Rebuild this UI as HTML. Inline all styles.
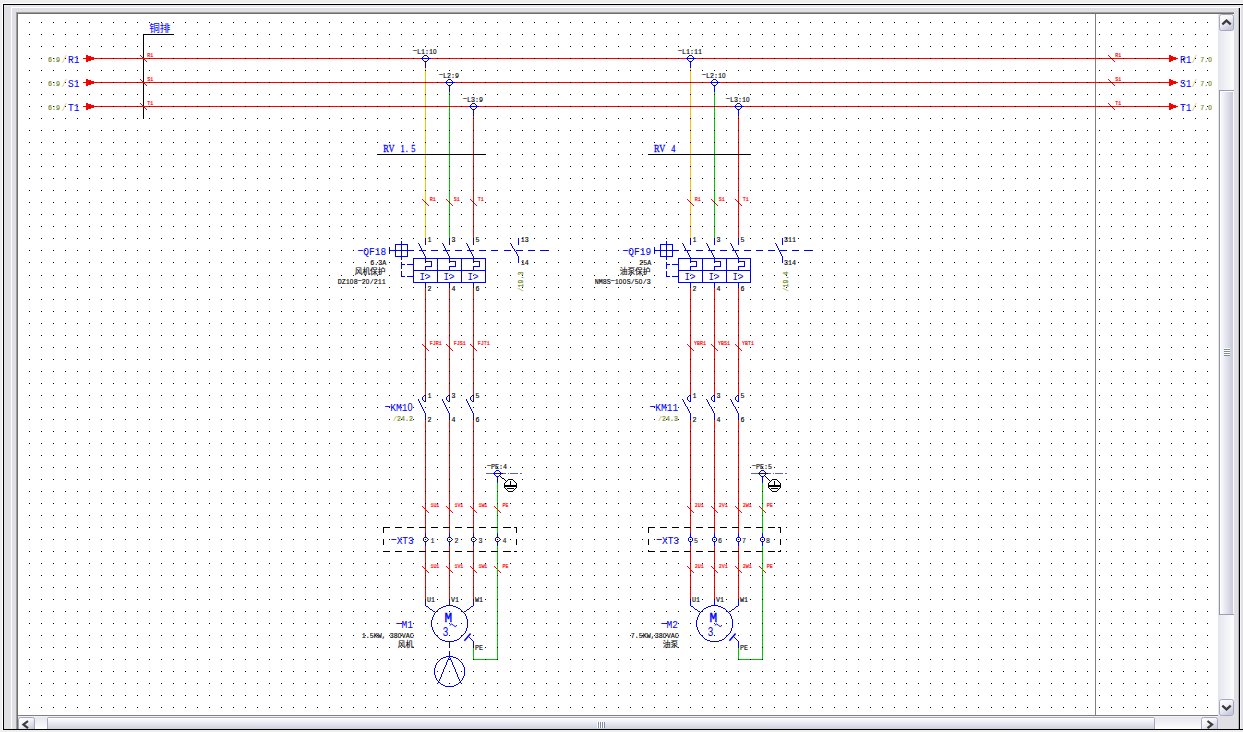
<!DOCTYPE html>
<html lang="zh">
<head>
<meta charset="utf-8">
<title>EPLAN schematic</title>
<style>
html,body{margin:0;padding:0;background:#eeeeee;}
body{width:1243px;height:732px;overflow:hidden;}
svg{display:block;}
text{white-space:pre;}
.m{font-family:"Liberation Mono","Noto Sans CJK SC",monospace;}
.z{font-family:"Liberation Sans","Noto Sans CJK SC",sans-serif;}
.s{font-family:"Liberation Serif","Noto Serif CJK SC",serif;}
.c{font-family:"Liberation Sans","Noto Sans CJK SC",sans-serif;}
</style>
</head>
<body>
<svg width="1243" height="732" viewBox="0 0 1243 732">
<rect x="0" y="0" width="1243" height="732" fill="#eeeeee" />
<rect x="2" y="3" width="1241" height="1" fill="#ffffff" />
<rect x="2" y="3" width="1" height="727" fill="#ffffff" />
<rect x="4" y="5" width="1235" height="724" fill="#e0dfe3" />
<rect x="4" y="5" width="1239" height="2" fill="#e6e5ea" />
<rect x="1240" y="5" width="1" height="724" fill="#f6f6fa" />
<rect x="1241" y="5" width="2" height="724" fill="#e0dfe3" />
<rect x="1238" y="8" width="1" height="721" fill="#b4b3b8" />
<rect x="3" y="4" width="1240" height="1" fill="#000" />
<rect x="3" y="729" width="1240" height="1" fill="#000" />
<rect x="3" y="4" width="1" height="726" fill="#000" />
<rect x="1239" y="8" width="1" height="722" fill="#000" />
<rect x="11" y="7" width="1228" height="1" fill="#ffffff" />
<rect x="11" y="7" width="1" height="722" fill="#ffffff" />
<rect x="16" y="12" width="1218" height="1" fill="#9d9da1" />
<rect x="16" y="12" width="1" height="717" fill="#9d9da1" />
<rect x="17" y="13" width="1217" height="1" fill="#716f64" />
<rect x="17" y="13" width="1" height="716" fill="#716f64" />
<rect x="18" y="14" width="1200" height="701" fill="#ffffff" />
<defs>
<linearGradient id="trv" x1="0" y1="0" x2="1" y2="0"><stop offset="0" stop-color="#e4e4ee"/><stop offset="1" stop-color="#fefefe"/></linearGradient>
<linearGradient id="trh" x1="0" y1="0" x2="0" y2="1"><stop offset="0" stop-color="#e4e4ee"/><stop offset="1" stop-color="#fefefe"/></linearGradient>
<linearGradient id="thv" x1="0" y1="0" x2="1" y2="0"><stop offset="0" stop-color="#ffffff"/><stop offset="0.25" stop-color="#f2f2f8"/><stop offset="1" stop-color="#c4c5d6"/></linearGradient>
<linearGradient id="thh" x1="0" y1="0" x2="0" y2="1"><stop offset="0" stop-color="#ffffff"/><stop offset="0.25" stop-color="#f2f2f8"/><stop offset="1" stop-color="#c4c5d6"/></linearGradient>
<linearGradient id="btn" x1="0" y1="0" x2="0.6" y2="1"><stop offset="0" stop-color="#ffffff"/><stop offset="0.45" stop-color="#f4f4fa"/><stop offset="1" stop-color="#c8c9da"/></linearGradient>
</defs>
<rect x="1218" y="14" width="16" height="702" fill="url(#trv)" />
<rect x="18" y="715" width="1200" height="1" fill="#7f7f7c" />
<rect x="18" y="716" width="1200" height="13" fill="url(#trh)" />
<rect x="18" y="716" width="1200" height="1" fill="#f3f3ef" />
<rect x="1218" y="716" width="16" height="13" fill="#e0dfe3" />
<rect x="1219.5" y="14.5" width="14" height="16" rx="2" fill="url(#btn)" stroke="#a3a7bf" stroke-width="1"/>
<rect x="1219.5" y="699.5" width="14" height="16" rx="2" fill="url(#btn)" stroke="#a3a7bf" stroke-width="1"/>
<rect x="1219" y="90" width="15" height="525" fill="url(#thv)" />
<rect x="1219" y="90" width="1" height="525" fill="#8f93a8" />
<rect x="1220" y="91" width="1" height="523" fill="#ffffff" />
<rect x="1233" y="91" width="1" height="523" fill="#fbfbfd" />
<rect x="1220" y="90" width="14" height="1" fill="#9a9eb4" />
<rect x="1220" y="614" width="14" height="1" fill="#9a9eb4" />
<rect x="1221" y="91" width="12" height="1" fill="#ffffff" />
<rect x="1224" y="349" width="6" height="1" fill="#7f8aa2" />
<rect x="1224" y="348" width="6" height="1" fill="#ffffff" />
<rect x="1224" y="351" width="6" height="1" fill="#7f8aa2" />
<rect x="1224" y="350" width="6" height="1" fill="#ffffff" />
<rect x="1224" y="353" width="6" height="1" fill="#7f8aa2" />
<rect x="1224" y="352" width="6" height="1" fill="#ffffff" />
<rect x="1224" y="355" width="6" height="1" fill="#7f8aa2" />
<rect x="1224" y="354" width="6" height="1" fill="#ffffff" />
<clipPath id="hc"><rect x="18" y="716" width="1200" height="13"/></clipPath>
<g clip-path="url(#hc)">
<rect x="18.5" y="717.5" width="16" height="14" rx="2" fill="url(#btn)" stroke="#a3a7bf" stroke-width="1"/>
<rect x="1201.5" y="717.5" width="16" height="14" rx="2" fill="url(#btn)" stroke="#a3a7bf" stroke-width="1"/>
<rect x="47.5" y="717.5" width="1107" height="14" rx="1.5" fill="url(#thh)" stroke="#a3a7bf" stroke-width="1"/>
<rect x="48" y="718" width="1106" height="1" fill="#ffffff" />
<rect x="598" y="722" width="1" height="6" fill="#7f8aa2" />
<rect x="597" y="722" width="1" height="6" fill="#ffffff" />
<rect x="600" y="722" width="1" height="6" fill="#7f8aa2" />
<rect x="599" y="722" width="1" height="6" fill="#ffffff" />
<rect x="602" y="722" width="1" height="6" fill="#7f8aa2" />
<rect x="601" y="722" width="1" height="6" fill="#ffffff" />
<rect x="604" y="722" width="1" height="6" fill="#7f8aa2" />
<rect x="603" y="722" width="1" height="6" fill="#ffffff" />
</g>
<path d="M1222.3 24.4 L1226.5 20.6 L1230.7 24.4" fill="none" stroke="#3c3c3c" stroke-width="2.2" stroke-linejoin="miter"/>
<path d="M1222.3 705.6 L1226.5 709.4 L1230.7 705.6" fill="none" stroke="#3c3c3c" stroke-width="2.2" stroke-linejoin="miter"/>
<path d="M28 721 L23.4 724.6 L28 728.2" fill="none" stroke="#3c3c3c" stroke-width="2.2" stroke-linejoin="miter"/>
<path d="M1207.5 721 L1212.1 724.6 L1207.5 728.2" fill="none" stroke="#3c3c3c" stroke-width="2.2" stroke-linejoin="miter"/>
<g shape-rendering="crispEdges">
<rect x="1095" y="14" width="1" height="701" fill="#808080"/>
<rect x="143" y="34" width="1" height="85" fill="#000000"/>
<rect x="143" y="34" width="31" height="1" fill="#000000"/>
<text class="c" x="149.2" y="32.2" font-size="10.6" fill="#0000ff" textLength="21.2" lengthAdjust="spacingAndGlyphs" font-weight="400">铜排</text>
<rect x="83" y="58" width="1095" height="1" fill="#ff0000"/>
<rect x="86" y="55" width="2" height="7" fill="#ff0000" />
<rect x="88" y="56" width="3" height="5" fill="#ff0000" />
<rect x="91" y="57" width="3" height="3" fill="#ff0000" />
<rect x="1169" y="55" width="2" height="7" fill="#ff0000" />
<rect x="1171" y="56" width="2" height="5" fill="#ff0000" />
<rect x="1173" y="57" width="3" height="3" fill="#ff0000" />
<path d="M140 55.5h1M141 56.5h1M142 57.5h1M143 58.5h1M144 59.5h1M145 60.5h1M146 61.5h1" stroke="#ff0000" fill="none"/>
<g transform="translate(147.2 57)" fill="#ff0000" font-size="6.22" stroke="#ff0000" stroke-width="0.2">
<text class="m" transform="scale(0.8 1)" x="0 3.73">R1</text>
</g>
<path d="M1108 55.5h1M1109 56.5h1M1110 57.5h1M1111 58.5h1M1112 59.5h1M1113 60.5h1M1114 61.5h1" stroke="#ff0000" fill="none"/>
<g transform="translate(1115.2 57)" fill="#ff0000" font-size="6.22" stroke="#ff0000" stroke-width="0.2">
<text class="m" transform="scale(0.8 1)" x="0 3.73">R1</text>
</g>
<g transform="translate(48 62.1)" fill="#6f8a26" font-size="7.74" stroke="#6f8a26" stroke-width="0.2">
<text class="m" transform="scale(0.86 1)" x="0 4.65 9.29">6:9</text>
</g>
<g transform="translate(61.6 63)" fill="#e6cc78" font-size="10.78" stroke="#e6cc78" stroke-width="0.05">
<text class="m" transform="scale(0.88 1)" x="0">/</text>
</g>
<g transform="translate(68 63)" fill="#0000ff" font-size="10.78" stroke="#0000ff" stroke-width="0.05">
<text class="m" transform="scale(0.88 1)" x="0 6.47">R1</text>
</g>
<g transform="translate(1180 63)" fill="#0000ff" font-size="10.78" stroke="#0000ff" stroke-width="0.05">
<text class="m" transform="scale(0.88 1)" x="0 6.47">R1</text>
</g>
<g transform="translate(1191.6 63)" fill="#e6cc78" font-size="10.78" stroke="#e6cc78" stroke-width="0.05">
<text class="m" transform="scale(0.88 1)" x="0">/</text>
</g>
<g transform="translate(1200.2 62.1)" fill="#6f8a26" font-size="7.74" stroke="#6f8a26" stroke-width="0.2">
<text class="m" transform="scale(0.86 1)" x="0 4.65 9.29">7.<tspan class="z" font-size="7.42">0</tspan></text>
</g>
<rect x="83" y="82" width="1095" height="1" fill="#ff0000"/>
<rect x="86" y="79" width="2" height="7" fill="#ff0000" />
<rect x="88" y="80" width="3" height="5" fill="#ff0000" />
<rect x="91" y="81" width="3" height="3" fill="#ff0000" />
<rect x="1169" y="79" width="2" height="7" fill="#ff0000" />
<rect x="1171" y="80" width="2" height="5" fill="#ff0000" />
<rect x="1173" y="81" width="3" height="3" fill="#ff0000" />
<path d="M140 79.5h1M141 80.5h1M142 81.5h1M143 82.5h1M144 83.5h1M145 84.5h1M146 85.5h1" stroke="#ff0000" fill="none"/>
<g transform="translate(147.2 81)" fill="#ff0000" font-size="6.22" stroke="#ff0000" stroke-width="0.2">
<text class="m" transform="scale(0.8 1)" x="0 3.73">S1</text>
</g>
<path d="M1108 79.5h1M1109 80.5h1M1110 81.5h1M1111 82.5h1M1112 83.5h1M1113 84.5h1M1114 85.5h1" stroke="#ff0000" fill="none"/>
<g transform="translate(1115.2 81)" fill="#ff0000" font-size="6.22" stroke="#ff0000" stroke-width="0.2">
<text class="m" transform="scale(0.8 1)" x="0 3.73">S1</text>
</g>
<g transform="translate(48 86.1)" fill="#6f8a26" font-size="7.74" stroke="#6f8a26" stroke-width="0.2">
<text class="m" transform="scale(0.86 1)" x="0 4.65 9.29">6:9</text>
</g>
<g transform="translate(61.6 87)" fill="#e6cc78" font-size="10.78" stroke="#e6cc78" stroke-width="0.05">
<text class="m" transform="scale(0.88 1)" x="0">/</text>
</g>
<g transform="translate(68 87)" fill="#0000ff" font-size="10.78" stroke="#0000ff" stroke-width="0.05">
<text class="m" transform="scale(0.88 1)" x="0 6.47">S1</text>
</g>
<g transform="translate(1180 87)" fill="#0000ff" font-size="10.78" stroke="#0000ff" stroke-width="0.05">
<text class="m" transform="scale(0.88 1)" x="0 6.47">S1</text>
</g>
<g transform="translate(1191.6 87)" fill="#e6cc78" font-size="10.78" stroke="#e6cc78" stroke-width="0.05">
<text class="m" transform="scale(0.88 1)" x="0">/</text>
</g>
<g transform="translate(1200.2 86.1)" fill="#6f8a26" font-size="7.74" stroke="#6f8a26" stroke-width="0.2">
<text class="m" transform="scale(0.86 1)" x="0 4.65 9.29">7.<tspan class="z" font-size="7.42">0</tspan></text>
</g>
<rect x="83" y="106" width="1095" height="1" fill="#ff0000"/>
<rect x="86" y="103" width="2" height="7" fill="#ff0000" />
<rect x="88" y="104" width="3" height="5" fill="#ff0000" />
<rect x="91" y="105" width="3" height="3" fill="#ff0000" />
<rect x="1169" y="103" width="2" height="7" fill="#ff0000" />
<rect x="1171" y="104" width="2" height="5" fill="#ff0000" />
<rect x="1173" y="105" width="3" height="3" fill="#ff0000" />
<path d="M140 103.5h1M141 104.5h1M142 105.5h1M143 106.5h1M144 107.5h1M145 108.5h1M146 109.5h1" stroke="#ff0000" fill="none"/>
<g transform="translate(147.2 105)" fill="#ff0000" font-size="6.22" stroke="#ff0000" stroke-width="0.2">
<text class="m" transform="scale(0.8 1)" x="0 3.73">T1</text>
</g>
<path d="M1108 103.5h1M1109 104.5h1M1110 105.5h1M1111 106.5h1M1112 107.5h1M1113 108.5h1M1114 109.5h1" stroke="#ff0000" fill="none"/>
<g transform="translate(1115.2 105)" fill="#ff0000" font-size="6.22" stroke="#ff0000" stroke-width="0.2">
<text class="m" transform="scale(0.8 1)" x="0 3.73">T1</text>
</g>
<g transform="translate(48 110.1)" fill="#6f8a26" font-size="7.74" stroke="#6f8a26" stroke-width="0.2">
<text class="m" transform="scale(0.86 1)" x="0 4.65 9.29">6:9</text>
</g>
<g transform="translate(61.6 111)" fill="#e6cc78" font-size="10.78" stroke="#e6cc78" stroke-width="0.05">
<text class="m" transform="scale(0.88 1)" x="0">/</text>
</g>
<g transform="translate(68 111)" fill="#0000ff" font-size="10.78" stroke="#0000ff" stroke-width="0.05">
<text class="m" transform="scale(0.88 1)" x="0 6.47">T1</text>
</g>
<g transform="translate(1180 111)" fill="#0000ff" font-size="10.78" stroke="#0000ff" stroke-width="0.05">
<text class="m" transform="scale(0.88 1)" x="0 6.47">T1</text>
</g>
<g transform="translate(1191.6 111)" fill="#e6cc78" font-size="10.78" stroke="#e6cc78" stroke-width="0.05">
<text class="m" transform="scale(0.88 1)" x="0">/</text>
</g>
<g transform="translate(1200.2 110.1)" fill="#6f8a26" font-size="7.74" stroke="#6f8a26" stroke-width="0.2">
<text class="m" transform="scale(0.86 1)" x="0 4.65 9.29">7.<tspan class="z" font-size="7.42">0</tspan></text>
</g>
<rect x="425" y="68" width="1" height="170" fill="#ffc000"/>
<rect x="425" y="61" width="1" height="7" fill="#0000ff"/>
<rect x="423" y="56" width="5" height="5" fill="#ffffff" />
<rect x="421" y="58" width="10" height="1" fill="#0000ff"/>
<path d="M424 55.5h3M423 56.5h1M427 56.5h1M422 57.5h1M428 57.5h1M422 58.5h1M428 58.5h1M422 59.5h1M428 59.5h1M423 60.5h1M427 60.5h1M424 61.5h3" stroke="#0000ff" fill="none"/>
<g transform="translate(413 54)" fill="#000000" font-size="7.74" stroke="#000000" stroke-width="0.15">
<text class="m" transform="translate(2 -1.54) scale(1.7 1)" x="-2.32">-</text>
<text class="m" transform="scale(0.86 1)" x="4.65 9.29 13.94 18.58 23.23">L1:1<tspan class="z" font-size="7.42">0</tspan></text>
</g>
<rect x="449" y="92" width="1" height="146" fill="#00c800"/>
<rect x="449" y="85" width="1" height="7" fill="#0000ff"/>
<rect x="447" y="80" width="5" height="5" fill="#ffffff" />
<rect x="445" y="82" width="10" height="1" fill="#0000ff"/>
<path d="M448 79.5h3M447 80.5h1M451 80.5h1M446 81.5h1M452 81.5h1M446 82.5h1M452 82.5h1M446 83.5h1M452 83.5h1M447 84.5h1M451 84.5h1M448 85.5h3" stroke="#0000ff" fill="none"/>
<g transform="translate(439 78)" fill="#000000" font-size="7.74" stroke="#000000" stroke-width="0.15">
<text class="m" transform="translate(2 -1.54) scale(1.7 1)" x="-2.32">-</text>
<text class="m" transform="scale(0.86 1)" x="4.65 9.29 13.94 18.58">L2:9</text>
</g>
<rect x="473" y="116" width="1" height="122" fill="#ff0000"/>
<rect x="473" y="109" width="1" height="7" fill="#0000ff"/>
<rect x="471" y="104" width="5" height="5" fill="#ffffff" />
<rect x="469" y="106" width="10" height="1" fill="#0000ff"/>
<path d="M472 103.5h3M471 104.5h1M475 104.5h1M470 105.5h1M476 105.5h1M470 106.5h1M476 106.5h1M470 107.5h1M476 107.5h1M471 108.5h1M475 108.5h1M472 109.5h3" stroke="#0000ff" fill="none"/>
<g transform="translate(463 102)" fill="#000000" font-size="7.74" stroke="#000000" stroke-width="0.15">
<text class="m" transform="translate(2 -1.54) scale(1.7 1)" x="-2.32">-</text>
<text class="m" transform="scale(0.86 1)" x="4.65 9.29 13.94 18.58">L3:9</text>
</g>
<rect x="377" y="154" width="109" height="1" fill="#000000"/>
<text class="s" transform="translate(383.2 152.1) scale(0.78 1)" x="3.53 10.58 17.63 24.68 30.18 38.78" font-size="10.6" fill="#0000ff" text-anchor="middle" stroke="#0000ff" stroke-width="0.25">RV 1.5</text>
<path d="M422 199.5h1M423 200.5h1M424 201.5h1M425 202.5h1M426 203.5h1M427 204.5h1M428 205.5h1" stroke="#ff0000" fill="none"/>
<g transform="translate(429.7 201)" fill="#ff0000" font-size="6.22" stroke="#ff0000" stroke-width="0.2">
<text class="m" transform="scale(0.8 1)" x="0 3.73">R1</text>
</g>
<path d="M446 199.5h1M447 200.5h1M448 201.5h1M449 202.5h1M450 203.5h1M451 204.5h1M452 205.5h1" stroke="#ff0000" fill="none"/>
<g transform="translate(453.7 201)" fill="#ff0000" font-size="6.22" stroke="#ff0000" stroke-width="0.2">
<text class="m" transform="scale(0.8 1)" x="0 3.73">S1</text>
</g>
<path d="M470 199.5h1M471 200.5h1M472 201.5h1M473 202.5h1M474 203.5h1M475 204.5h1M476 205.5h1" stroke="#ff0000" fill="none"/>
<g transform="translate(477.7 201)" fill="#ff0000" font-size="6.22" stroke="#ff0000" stroke-width="0.2">
<text class="m" transform="scale(0.8 1)" x="0 3.73">T1</text>
</g>
<rect x="425" y="238" width="1" height="7" fill="#0000ff"/>
<g transform="translate(427.6 242)" fill="#000000" font-size="7.74" stroke="#000000" stroke-width="0.15">
<text class="m" transform="scale(0.86 1)" x="0">1</text>
</g>
<path d="M418 243.5h1M419 244.5h1M419 245.5h1M420 246.5h1M420 247.5h1M421 248.5h1M421 249.5h1M422 250.5h1M422 251.5h1M423 252.5h1M423 253.5h1M424 254.5h1M424 255.5h1M425 256.5h1M425 257.5h1" stroke="#0000ff" fill="none"/>
<rect x="425" y="258" width="1" height="4" fill="#0000ff"/>
<rect x="425" y="261" width="7" height="1" fill="#0000ff"/>
<rect x="431" y="261" width="1" height="6" fill="#0000ff"/>
<rect x="425" y="266" width="7" height="1" fill="#0000ff"/>
<rect x="425" y="266" width="1" height="5" fill="#0000ff"/>
<g transform="translate(419.5 280)" fill="#0000ff" font-size="10.63">
<text class="m" transform="scale(0.86 1)" x="0 6.38">I&gt;</text>
</g>
<rect x="425" y="283" width="1" height="5" fill="#0000ff"/>
<rect x="425" y="288" width="1" height="107" fill="#ff0000"/>
<g transform="translate(427.4 291)" fill="#000000" font-size="7.74" stroke="#000000" stroke-width="0.15">
<text class="m" transform="scale(0.86 1)" x="0">2</text>
</g>
<rect x="449" y="238" width="1" height="7" fill="#0000ff"/>
<g transform="translate(451.6 242)" fill="#000000" font-size="7.74" stroke="#000000" stroke-width="0.15">
<text class="m" transform="scale(0.86 1)" x="0">3</text>
</g>
<path d="M442 243.5h1M443 244.5h1M443 245.5h1M444 246.5h1M444 247.5h1M445 248.5h1M445 249.5h1M446 250.5h1M446 251.5h1M447 252.5h1M447 253.5h1M448 254.5h1M448 255.5h1M449 256.5h1M449 257.5h1" stroke="#0000ff" fill="none"/>
<rect x="449" y="258" width="1" height="4" fill="#0000ff"/>
<rect x="449" y="261" width="7" height="1" fill="#0000ff"/>
<rect x="455" y="261" width="1" height="6" fill="#0000ff"/>
<rect x="449" y="266" width="7" height="1" fill="#0000ff"/>
<rect x="449" y="266" width="1" height="5" fill="#0000ff"/>
<g transform="translate(443.5 280)" fill="#0000ff" font-size="10.63">
<text class="m" transform="scale(0.86 1)" x="0 6.38">I&gt;</text>
</g>
<rect x="449" y="283" width="1" height="5" fill="#0000ff"/>
<rect x="449" y="288" width="1" height="107" fill="#ff0000"/>
<g transform="translate(451.4 291)" fill="#000000" font-size="7.74" stroke="#000000" stroke-width="0.15">
<text class="m" transform="scale(0.86 1)" x="0">4</text>
</g>
<rect x="473" y="238" width="1" height="7" fill="#0000ff"/>
<g transform="translate(475.6 242)" fill="#000000" font-size="7.74" stroke="#000000" stroke-width="0.15">
<text class="m" transform="scale(0.86 1)" x="0">5</text>
</g>
<path d="M466 243.5h1M467 244.5h1M467 245.5h1M468 246.5h1M468 247.5h1M469 248.5h1M469 249.5h1M470 250.5h1M470 251.5h1M471 252.5h1M471 253.5h1M472 254.5h1M472 255.5h1M473 256.5h1M473 257.5h1" stroke="#0000ff" fill="none"/>
<rect x="473" y="258" width="1" height="4" fill="#0000ff"/>
<rect x="473" y="261" width="7" height="1" fill="#0000ff"/>
<rect x="479" y="261" width="1" height="6" fill="#0000ff"/>
<rect x="473" y="266" width="7" height="1" fill="#0000ff"/>
<rect x="473" y="266" width="1" height="5" fill="#0000ff"/>
<g transform="translate(467.5 280)" fill="#0000ff" font-size="10.63">
<text class="m" transform="scale(0.86 1)" x="0 6.38">I&gt;</text>
</g>
<rect x="473" y="283" width="1" height="5" fill="#0000ff"/>
<rect x="473" y="288" width="1" height="107" fill="#ff0000"/>
<g transform="translate(475.4 291)" fill="#000000" font-size="7.74" stroke="#000000" stroke-width="0.15">
<text class="m" transform="scale(0.86 1)" x="0">6</text>
</g>
<rect x="413" y="258" width="73" height="1" fill="#0000ff"/>
<rect x="413" y="270" width="73" height="1" fill="#0000ff"/>
<rect x="413" y="282" width="73" height="1" fill="#0000ff"/>
<rect x="413" y="258" width="1" height="25" fill="#0000ff"/>
<rect x="437" y="258" width="1" height="25" fill="#0000ff"/>
<rect x="461" y="258" width="1" height="25" fill="#0000ff"/>
<rect x="485" y="258" width="1" height="25" fill="#0000ff"/>
<rect x="389" y="247" width="1" height="7" fill="#0000ff"/>
<rect x="389" y="250" width="25" height="1" fill="#0000ff"/>
<rect x="395" y="244" width="13" height="1" fill="#0000ff"/>
<rect x="395" y="256" width="13" height="1" fill="#0000ff"/>
<rect x="395" y="244" width="1" height="13" fill="#0000ff"/>
<rect x="407" y="244" width="1" height="13" fill="#0000ff"/>
<rect x="401" y="241" width="1" height="19" fill="#0000ff"/>
<rect x="401" y="262" width="1" height="7" fill="#0000ff"/>
<rect x="401" y="271" width="1" height="6" fill="#0000ff"/>
<rect x="401" y="264" width="4" height="1" fill="#0000ff"/>
<rect x="407" y="264" width="7" height="1" fill="#0000ff"/>
<rect x="401" y="276" width="4" height="1" fill="#0000ff"/>
<rect x="407" y="276" width="7" height="1" fill="#0000ff"/>
<rect x="419" y="250" width="7" height="1" fill="#0000ff"/>
<rect x="431" y="250" width="7" height="1" fill="#0000ff"/>
<rect x="443" y="250" width="7" height="1" fill="#0000ff"/>
<rect x="455" y="250" width="7" height="1" fill="#0000ff"/>
<rect x="467" y="250" width="7" height="1" fill="#0000ff"/>
<rect x="479" y="250" width="7" height="1" fill="#0000ff"/>
<rect x="491" y="250" width="7" height="1" fill="#0000ff"/>
<rect x="504" y="250" width="7" height="1" fill="#0000ff"/>
<rect x="516" y="250" width="7" height="1" fill="#0000ff"/>
<rect x="528" y="250" width="7" height="1" fill="#0000ff"/>
<rect x="540" y="250" width="9" height="1" fill="#0000ff"/>
<rect x="518" y="238" width="1" height="7" fill="#0000ff"/>
<path d="M510 243.5h1M511 244.5h1M511 245.5h1M512 246.5h1M512 247.5h1M513 248.5h1M514 249.5h1M514 250.5h1M515 251.5h1M516 252.5h1M516 253.5h1M517 254.5h1M517 255.5h1M518 256.5h1" stroke="#0000ff" fill="none"/>
<rect x="518" y="256" width="1" height="7" fill="#0000ff"/>
<g transform="translate(520.8 242)" fill="#000000" font-size="7.74" stroke="#000000" stroke-width="0.15">
<text class="m" transform="scale(0.86 1)" x="0 4.65">13</text>
</g>
<g transform="translate(520.8 265)" fill="#000000" font-size="7.74" stroke="#000000" stroke-width="0.15">
<text class="m" transform="scale(0.86 1)" x="0 4.65">14</text>
</g>
<g transform="translate(522.8 291.6) rotate(-90)" fill="#6f8a26" font-size="7.74" stroke="#6f8a26" stroke-width="0.2">
<text class="m" transform="scale(0.86 1)" x="0 4.65 9.29 13.94 18.58"><tspan fill="#e6cc78">/</tspan>19.3</text>
</g>
<g transform="translate(357.65 255)" fill="#0000ff" font-size="10.78" stroke="#0000ff" stroke-width="0.05">
<text class="m" transform="translate(2.83 -1.64) scale(1.7 1)" x="-3.23">-</text>
<text class="m" transform="scale(0.88 1)" x="6.47 12.93 19.4 25.87">QF18</text>
</g>
<g transform="translate(370.2 265)" fill="#000000" font-size="7.74" stroke="#000000" stroke-width="0.15">
<text class="m" transform="scale(0.86 1)" x="0 4.65 9.29 13.94">6.3A</text>
</g>
<text class="c" x="385.5" y="274.3" font-size="7.7" fill="#000000" text-anchor="end" textLength="30.8" lengthAdjust="spacingAndGlyphs" font-weight="400" stroke="#000" stroke-width="0.1">风机保护</text>
<g transform="translate(337.8 284)" fill="#000000" font-size="7.74" stroke="#000000" stroke-width="0.15">
<text class="m" transform="scale(0.86 1)" x="0 4.65 9.29 13.94 18.58">DZ1<tspan class="z" font-size="7.42">0</tspan>8</text>
<text class="m" transform="translate(22 -1.54) scale(1.7 1)" x="-2.32">-</text>
<text class="m" transform="scale(0.86 1)" x="27.87 32.52 37.16 41.81 46.46 51.1">2<tspan class="z" font-size="7.42">0</tspan>/211</text>
</g>
<path d="M422 344.5h1M423 345.5h1M424 346.5h1M425 347.5h1M426 348.5h1M427 349.5h1M428 350.5h1" stroke="#ff0000" fill="none"/>
<g transform="translate(429.7 345)" fill="#ff0000" font-size="6.22" stroke="#ff0000" stroke-width="0.2">
<text class="m" transform="scale(0.8 1)" x="0 3.73 7.47 11.2">FJR1</text>
</g>
<path d="M446 344.5h1M447 345.5h1M448 346.5h1M449 347.5h1M450 348.5h1M451 349.5h1M452 350.5h1" stroke="#ff0000" fill="none"/>
<g transform="translate(453.7 345)" fill="#ff0000" font-size="6.22" stroke="#ff0000" stroke-width="0.2">
<text class="m" transform="scale(0.8 1)" x="0 3.73 7.47 11.2">FJS1</text>
</g>
<path d="M470 344.5h1M471 345.5h1M472 346.5h1M473 347.5h1M474 348.5h1M475 349.5h1M476 350.5h1" stroke="#ff0000" fill="none"/>
<g transform="translate(477.7 345)" fill="#ff0000" font-size="6.22" stroke="#ff0000" stroke-width="0.2">
<text class="m" transform="scale(0.8 1)" x="0 3.73 7.47 11.2">FJT1</text>
</g>
<rect x="425" y="395" width="1" height="7" fill="#0000ff"/>
<path d="M424 395.5h1M423 396.5h1M422 397.5h1M422 398.5h1M422 399.5h1M423 400.5h1M424 401.5h1" stroke="#0000ff" fill="none"/>
<path d="M418 399.5h1M418 400.5h1M419 401.5h1M419 402.5h1M420 403.5h1M420 404.5h1M421 405.5h1M421 406.5h1M422 407.5h1M422 408.5h1M423 409.5h1M423 410.5h1M424 411.5h1M424 412.5h1" stroke="#0000ff" fill="none"/>
<rect x="425" y="413" width="1" height="7" fill="#0000ff"/>
<rect x="425" y="420" width="1" height="113" fill="#ff0000"/>
<g transform="translate(427.6 398)" fill="#000000" font-size="7.74" stroke="#000000" stroke-width="0.15">
<text class="m" transform="scale(0.86 1)" x="0">1</text>
</g>
<g transform="translate(427.4 422)" fill="#000000" font-size="7.74" stroke="#000000" stroke-width="0.15">
<text class="m" transform="scale(0.86 1)" x="0">2</text>
</g>
<rect x="449" y="395" width="1" height="7" fill="#0000ff"/>
<path d="M448 395.5h1M447 396.5h1M446 397.5h1M446 398.5h1M446 399.5h1M447 400.5h1M448 401.5h1" stroke="#0000ff" fill="none"/>
<path d="M442 399.5h1M442 400.5h1M443 401.5h1M443 402.5h1M444 403.5h1M444 404.5h1M445 405.5h1M445 406.5h1M446 407.5h1M446 408.5h1M447 409.5h1M447 410.5h1M448 411.5h1M448 412.5h1" stroke="#0000ff" fill="none"/>
<rect x="449" y="413" width="1" height="7" fill="#0000ff"/>
<rect x="449" y="420" width="1" height="113" fill="#ff0000"/>
<g transform="translate(451.6 398)" fill="#000000" font-size="7.74" stroke="#000000" stroke-width="0.15">
<text class="m" transform="scale(0.86 1)" x="0">3</text>
</g>
<g transform="translate(451.4 422)" fill="#000000" font-size="7.74" stroke="#000000" stroke-width="0.15">
<text class="m" transform="scale(0.86 1)" x="0">4</text>
</g>
<rect x="473" y="395" width="1" height="7" fill="#0000ff"/>
<path d="M472 395.5h1M471 396.5h1M470 397.5h1M470 398.5h1M470 399.5h1M471 400.5h1M472 401.5h1" stroke="#0000ff" fill="none"/>
<path d="M466 399.5h1M466 400.5h1M467 401.5h1M467 402.5h1M468 403.5h1M468 404.5h1M469 405.5h1M469 406.5h1M470 407.5h1M470 408.5h1M471 409.5h1M471 410.5h1M472 411.5h1M472 412.5h1" stroke="#0000ff" fill="none"/>
<rect x="473" y="413" width="1" height="7" fill="#0000ff"/>
<rect x="473" y="420" width="1" height="113" fill="#ff0000"/>
<g transform="translate(475.6 398)" fill="#000000" font-size="7.74" stroke="#000000" stroke-width="0.15">
<text class="m" transform="scale(0.86 1)" x="0">5</text>
</g>
<g transform="translate(475.4 422)" fill="#000000" font-size="7.74" stroke="#000000" stroke-width="0.15">
<text class="m" transform="scale(0.86 1)" x="0">6</text>
</g>
<g transform="translate(384.65 411)" fill="#0000ff" font-size="10.78" stroke="#0000ff" stroke-width="0.05">
<text class="m" transform="translate(2.83 -1.64) scale(1.7 1)" x="-3.23">-</text>
<text class="m" transform="scale(0.88 1)" x="6.47 12.93 19.4 25.87">KM1<tspan class="z" font-size="10.33">0</tspan></text>
</g>
<g transform="translate(393 421.1)" fill="#6f8a26" font-size="7.74" stroke="#6f8a26" stroke-width="0.2">
<text class="m" transform="scale(0.86 1)" x="0 4.65 9.29 13.94 18.58"><tspan fill="#e6cc78">/</tspan>24.2</text>
</g>
<rect x="486" y="473" width="8" height="1" fill="#5068c0"/>
<rect x="502" y="473" width="4" height="1" fill="#5068c0"/>
<rect x="508" y="473" width="1" height="1" fill="#5068c0"/>
<rect x="510" y="473" width="8" height="1" fill="#5068c0"/>
<rect x="520" y="473" width="2" height="1" fill="#5068c0"/>
<rect x="493" y="473" width="10" height="1" fill="#0000ff"/>
<path d="M496 470.5h3M495 471.5h1M499 471.5h1M494 472.5h1M500 472.5h1M494 473.5h1M500 473.5h1M494 474.5h1M500 474.5h1M495 475.5h1M499 475.5h1M496 476.5h3" stroke="#0000ff" fill="none"/>
<rect x="497" y="477" width="1" height="6" fill="#0000ff"/>
<rect x="497" y="483" width="1" height="50" fill="#00c800"/>
<g transform="translate(487 469)" fill="#000000" font-size="7.74" stroke="#000000" stroke-width="0.15">
<text class="m" transform="translate(2 -1.54) scale(1.7 1)" x="-2.32">-</text>
<text class="m" transform="scale(0.86 1)" x="4.65 9.29 13.94 18.58">PE:4</text>
</g>
<path d="M499 475.5h1M500 476.5h1M501 477.5h1M502 478.5h2M504 479.5h1M505 480.5h1" stroke="#000000" fill="none"/>
<path d="M508 479.5h5M507 480.5h1M513 480.5h1M506 481.5h1M514 481.5h1M505 482.5h1M515 482.5h1M504 483.5h1M516 483.5h1M504 484.5h1M516 484.5h1M504 485.5h1M516 485.5h1M504 486.5h1M516 486.5h1M504 487.5h1M516 487.5h1M505 488.5h1M515 488.5h1M506 489.5h1M514 489.5h1M507 490.5h1M513 490.5h1M508 491.5h5" stroke="#000000" fill="none"/>
<rect x="510" y="481" width="1" height="5" fill="#000000"/>
<rect x="505" y="485" width="11" height="2" fill="#000000"/>
<rect x="507" y="488" width="7" height="1" fill="#000000"/>
<path d="M422 506.5h1M423 507.5h1M424 508.5h1M425 509.5h1M426 510.5h1M427 511.5h1M428 512.5h1" stroke="#ff0000" fill="none"/>
<g transform="translate(430.4 507)" fill="#ff0000" font-size="6.22" stroke="#ff0000" stroke-width="0.2">
<text class="m" transform="scale(0.8 1)" x="0 3.73 7.47">1U1</text>
</g>
<path d="M422 566.5h1M423 567.5h1M424 568.5h1M425 569.5h1M426 570.5h1M427 571.5h1M428 572.5h1" stroke="#ff0000" fill="none"/>
<g transform="translate(430.4 568)" fill="#ff0000" font-size="6.22" stroke="#ff0000" stroke-width="0.2">
<text class="m" transform="scale(0.8 1)" x="0 3.73 7.47">1U1</text>
</g>
<path d="M446 506.5h1M447 507.5h1M448 508.5h1M449 509.5h1M450 510.5h1M451 511.5h1M452 512.5h1" stroke="#ff0000" fill="none"/>
<g transform="translate(454.4 507)" fill="#ff0000" font-size="6.22" stroke="#ff0000" stroke-width="0.2">
<text class="m" transform="scale(0.8 1)" x="0 3.73 7.47">1V1</text>
</g>
<path d="M446 566.5h1M447 567.5h1M448 568.5h1M449 569.5h1M450 570.5h1M451 571.5h1M452 572.5h1" stroke="#ff0000" fill="none"/>
<g transform="translate(454.4 568)" fill="#ff0000" font-size="6.22" stroke="#ff0000" stroke-width="0.2">
<text class="m" transform="scale(0.8 1)" x="0 3.73 7.47">1V1</text>
</g>
<path d="M470 506.5h1M471 507.5h1M472 508.5h1M473 509.5h1M474 510.5h1M475 511.5h1M476 512.5h1" stroke="#ff0000" fill="none"/>
<g transform="translate(478.4 507)" fill="#ff0000" font-size="6.22" stroke="#ff0000" stroke-width="0.2">
<text class="m" transform="scale(0.8 1)" x="0 3.73 7.47">1W1</text>
</g>
<path d="M470 566.5h1M471 567.5h1M472 568.5h1M473 569.5h1M474 570.5h1M475 571.5h1M476 572.5h1" stroke="#ff0000" fill="none"/>
<g transform="translate(478.4 568)" fill="#ff0000" font-size="6.22" stroke="#ff0000" stroke-width="0.2">
<text class="m" transform="scale(0.8 1)" x="0 3.73 7.47">1W1</text>
</g>
<path d="M494 506.5h1M495 507.5h1M496 508.5h1M497 509.5h1M498 510.5h1M499 511.5h1M500 512.5h1" stroke="#ff0000" fill="none"/>
<g transform="translate(502.4 507)" fill="#ff0000" font-size="6.22" stroke="#ff0000" stroke-width="0.2">
<text class="m" transform="scale(0.8 1)" x="0 3.73">PE</text>
</g>
<path d="M494 566.5h1M495 567.5h1M496 568.5h1M497 569.5h1M498 570.5h1M499 571.5h1M500 572.5h1" stroke="#ff0000" fill="none"/>
<g transform="translate(502.4 568)" fill="#ff0000" font-size="6.22" stroke="#ff0000" stroke-width="0.2">
<text class="m" transform="scale(0.8 1)" x="0 3.73">PE</text>
</g>
<rect x="383" y="527" width="7" height="1" fill="#000000"/>
<rect x="383" y="551" width="7" height="1" fill="#000000"/>
<rect x="395" y="527" width="7" height="1" fill="#000000"/>
<rect x="395" y="551" width="7" height="1" fill="#000000"/>
<rect x="407" y="527" width="7" height="1" fill="#000000"/>
<rect x="407" y="551" width="7" height="1" fill="#000000"/>
<rect x="419" y="527" width="7" height="1" fill="#000000"/>
<rect x="419" y="551" width="7" height="1" fill="#000000"/>
<rect x="431" y="527" width="7" height="1" fill="#000000"/>
<rect x="431" y="551" width="7" height="1" fill="#000000"/>
<rect x="443" y="527" width="7" height="1" fill="#000000"/>
<rect x="443" y="551" width="7" height="1" fill="#000000"/>
<rect x="455" y="527" width="7" height="1" fill="#000000"/>
<rect x="455" y="551" width="7" height="1" fill="#000000"/>
<rect x="467" y="527" width="7" height="1" fill="#000000"/>
<rect x="467" y="551" width="7" height="1" fill="#000000"/>
<rect x="479" y="527" width="7" height="1" fill="#000000"/>
<rect x="479" y="551" width="7" height="1" fill="#000000"/>
<rect x="491" y="527" width="7" height="1" fill="#000000"/>
<rect x="491" y="551" width="7" height="1" fill="#000000"/>
<rect x="503" y="527" width="7" height="1" fill="#000000"/>
<rect x="503" y="551" width="7" height="1" fill="#000000"/>
<rect x="515" y="527" width="2" height="1" fill="#000000"/>
<rect x="515" y="551" width="2" height="1" fill="#000000"/>
<rect x="383" y="527" width="1" height="6" fill="#000000"/>
<rect x="383" y="539" width="1" height="6" fill="#000000"/>
<rect x="383" y="551" width="1" height="1" fill="#000000"/>
<rect x="516" y="527" width="1" height="6" fill="#000000"/>
<rect x="516" y="539" width="1" height="6" fill="#000000"/>
<rect x="516" y="551" width="1" height="1" fill="#000000"/>
<rect x="514" y="527" width="3" height="1" fill="#000000"/>
<rect x="514" y="551" width="3" height="1" fill="#000000"/>
<rect x="425" y="533" width="1" height="13" fill="#0000ff"/>
<rect x="424" y="538" width="4" height="3" fill="#ffffff" />
<path d="M424 537.5h3M423 538.5h1M427 538.5h1M423 539.5h1M428 539.5h1M423 540.5h1M427 540.5h1M424 541.5h3" stroke="#0000ff" fill="none"/>
<g transform="translate(430.4 543)" fill="#202020" font-size="7.74" stroke="#202020" stroke-width="0.15">
<text class="m" transform="scale(0.86 1)" x="0">1</text>
</g>
<rect x="425" y="546" width="1" height="53" fill="#ff0000"/>
<rect x="449" y="533" width="1" height="13" fill="#0000ff"/>
<rect x="448" y="538" width="4" height="3" fill="#ffffff" />
<path d="M448 537.5h3M447 538.5h1M451 538.5h1M447 539.5h1M452 539.5h1M447 540.5h1M451 540.5h1M448 541.5h3" stroke="#0000ff" fill="none"/>
<g transform="translate(454.4 543)" fill="#202020" font-size="7.74" stroke="#202020" stroke-width="0.15">
<text class="m" transform="scale(0.86 1)" x="0">2</text>
</g>
<rect x="449" y="546" width="1" height="53" fill="#ff0000"/>
<rect x="473" y="533" width="1" height="13" fill="#0000ff"/>
<rect x="472" y="538" width="4" height="3" fill="#ffffff" />
<path d="M472 537.5h3M471 538.5h1M475 538.5h1M471 539.5h1M476 539.5h1M471 540.5h1M475 540.5h1M472 541.5h3" stroke="#0000ff" fill="none"/>
<g transform="translate(478.4 543)" fill="#202020" font-size="7.74" stroke="#202020" stroke-width="0.15">
<text class="m" transform="scale(0.86 1)" x="0">3</text>
</g>
<rect x="473" y="546" width="1" height="53" fill="#ff0000"/>
<rect x="497" y="533" width="1" height="13" fill="#0000ff"/>
<rect x="496" y="538" width="4" height="3" fill="#ffffff" />
<path d="M496 537.5h3M495 538.5h1M499 538.5h1M495 539.5h1M500 539.5h1M495 540.5h1M499 540.5h1M496 541.5h3" stroke="#0000ff" fill="none"/>
<g transform="translate(502.4 543)" fill="#202020" font-size="7.74" stroke="#202020" stroke-width="0.15">
<text class="m" transform="scale(0.86 1)" x="0">4</text>
</g>
<rect x="497" y="546" width="1" height="114" fill="#00c800"/>
<g transform="translate(391 544)" fill="#0000ff" font-size="10.78" stroke="#0000ff" stroke-width="0.05">
<text class="m" transform="translate(2.83 -1.64) scale(1.7 1)" x="-3.23">-</text>
<text class="m" transform="scale(0.88 1)" x="6.47 12.93 19.4">XT3</text>
</g>
<g transform="translate(427 602.4)" fill="#000000" font-size="7.74" stroke="#000000" stroke-width="0.15">
<text class="m" transform="scale(0.86 1)" x="0 4.65">U1</text>
</g>
<g transform="translate(451 602.4)" fill="#000000" font-size="7.74" stroke="#000000" stroke-width="0.15">
<text class="m" transform="scale(0.86 1)" x="0 4.65">V1</text>
</g>
<g transform="translate(475 602.4)" fill="#000000" font-size="7.74" stroke="#000000" stroke-width="0.15">
<text class="m" transform="scale(0.86 1)" x="0 4.65">W1</text>
</g>
<path d="M446 605.5h7M443 606.5h3M453 606.5h3M441 607.5h2M456 607.5h2M439 608.5h2M458 608.5h2M438 609.5h1M460 609.5h1M437 610.5h1M461 610.5h1M436 611.5h1M462 611.5h1M435 612.5h1M463 612.5h1M434 613.5h1M464 613.5h1M434 614.5h1M465 614.5h1M433 615.5h1M465 615.5h1M433 616.5h1M466 616.5h1M432 617.5h1M466 617.5h1M432 618.5h1M466 618.5h1M432 619.5h1M467 619.5h1M431 620.5h1M467 620.5h1M431 621.5h1M467 621.5h1M431 622.5h1M467 622.5h1M431 623.5h1M467 623.5h1M431 624.5h1M467 624.5h1M431 625.5h1M467 625.5h1M431 626.5h1M467 626.5h1M432 627.5h1M467 627.5h1M432 628.5h1M466 628.5h1M432 629.5h1M466 629.5h1M433 630.5h1M466 630.5h1M433 631.5h1M465 631.5h1M434 632.5h1M465 632.5h1M434 633.5h1M464 633.5h1M435 634.5h1M463 634.5h1M436 635.5h1M462 635.5h1M437 636.5h1M461 636.5h1M438 637.5h1M460 637.5h1M439 638.5h1M459 638.5h1M440 639.5h2M457 639.5h2M442 640.5h3M454 640.5h3M445 641.5h9" stroke="#0000ff" fill="none"/>
<rect x="425" y="599" width="1" height="7" fill="#0000ff"/>
<path d="M425 605.5h1M426 606.5h2M428 607.5h1M429 608.5h1M430 609.5h2M432 610.5h1M433 611.5h2M435 612.5h1" stroke="#0000ff" fill="none"/>
<rect x="449" y="599" width="1" height="7" fill="#0000ff"/>
<rect x="473" y="599" width="1" height="7" fill="#0000ff"/>
<path d="M473 605.5h1M471 606.5h2M470 607.5h1M469 608.5h1M467 609.5h2M466 610.5h1M464 611.5h2M463 612.5h1" stroke="#0000ff" fill="none"/>
<g transform="translate(444.5 621.9)" fill="#0000ff" font-size="13.21" stroke="#0000ff" stroke-width="0.4">
<text class="m" transform="scale(0.96 1)" x="0">M</text>
</g>
<g transform="translate(442.4 636)" fill="#0000ff" font-size="12.75">
<text class="m" transform="scale(0.78 1)" x="0">3</text>
</g>
<path d="M449.8 625.3 q1.8 -2.6 3.6 0 t3.6 0" fill="none" stroke="#0000ff" shape-rendering="geometricPrecision"/>
<line x1="464.4" y1="640.8" x2="470.6" y2="633.4" stroke="#0000ff" stroke-width="1.5" shape-rendering="geometricPrecision"/>
<path d="M469 637.5h1M470 638.5h1M471 639.5h1M472 640.5h1M473 641.5h1" stroke="#0000ff" fill="none"/>
<rect x="473" y="641" width="1" height="6" fill="#0000ff"/>
<rect x="473" y="647" width="1" height="13" fill="#00c800"/>
<rect x="473" y="659" width="25" height="1" fill="#00c800"/>
<g transform="translate(475 650.4)" fill="#000000" font-size="7.74" stroke="#000000" stroke-width="0.15">
<text class="m" transform="scale(0.86 1)" x="0 4.65">PE</text>
</g>
<g transform="translate(395.79 628)" fill="#0000ff" font-size="10.78" stroke="#0000ff" stroke-width="0.05">
<text class="m" transform="translate(2.83 -1.64) scale(1.7 1)" x="-3.23">-</text>
<text class="m" transform="scale(0.88 1)" x="6.47 12.93">M1</text>
</g>
<g transform="translate(361.8 638)" fill="#000000" font-size="7.74" stroke="#000000" stroke-width="0.15">
<text class="m" transform="scale(0.86 1)" x="0 4.65 9.29 13.94 18.58 23.23 27.87 32.52 37.16 41.81 46.46 51.1 55.75">1.5KW, 38<tspan class="z" font-size="7.42">0</tspan>VAC</text>
</g>
<text class="c" x="413.3" y="647.3" font-size="7.7" fill="#000000" text-anchor="end" textLength="15.5" lengthAdjust="spacingAndGlyphs" font-weight="400" stroke="#000" stroke-width="0.1">风机</text>
<rect x="449" y="642" width="1" height="6" fill="#0000ff"/>
<rect x="449" y="651" width="1" height="6" fill="#0000ff"/>
<path d="M446 656.5h7M443 657.5h3M453 657.5h3M441 658.5h2M456 658.5h2M440 659.5h1M458 659.5h1M439 660.5h1M459 660.5h1M438 661.5h1M460 661.5h1M437 662.5h1M461 662.5h1M436 663.5h1M462 663.5h1M436 664.5h1M462 664.5h1M435 665.5h1M463 665.5h1M435 666.5h1M463 666.5h1M435 667.5h1M464 667.5h1M434 668.5h1M464 668.5h1M434 669.5h1M464 669.5h1M434 670.5h1M464 670.5h1M434 671.5h1M464 671.5h1M434 672.5h1M464 672.5h1M434 673.5h1M464 673.5h1M434 674.5h1M464 674.5h1M435 675.5h1M464 675.5h1M435 676.5h1M463 676.5h1M435 677.5h1M463 677.5h1M436 678.5h1M462 678.5h1M436 679.5h1M462 679.5h1M437 680.5h1M461 680.5h1M438 681.5h1M460 681.5h1M439 682.5h1M459 682.5h1M440 683.5h1M458 683.5h1M441 684.5h2M456 684.5h2M443 685.5h2M454 685.5h2M445 686.5h9" stroke="#0000ff" fill="none"/>
<path d="M449 656.5h1M449 657.5h1M448 658.5h1M448 659.5h1M447 660.5h1M447 661.5h1M446 662.5h1M446 663.5h1M446 664.5h1M445 665.5h1M445 666.5h1M444 667.5h1M444 668.5h1M443 669.5h1M443 670.5h1M443 671.5h1M442 672.5h1M442 673.5h1M441 674.5h1M441 675.5h1M441 676.5h1M440 677.5h1M440 678.5h1M439 679.5h1M439 680.5h1M438 681.5h1M438 682.5h1" stroke="#0000ff" fill="none"/>
<path d="M449 656.5h1M449 657.5h1M450 658.5h1M450 659.5h1M451 660.5h1M451 661.5h1M452 662.5h1M452 663.5h1M452 664.5h1M453 665.5h1M453 666.5h1M454 667.5h1M454 668.5h1M455 669.5h1M455 670.5h1M455 671.5h1M456 672.5h1M456 673.5h1M457 674.5h1M457 675.5h1M457 676.5h1M458 677.5h1M458 678.5h1M459 679.5h1M459 680.5h1M460 681.5h1M460 682.5h1" stroke="#0000ff" fill="none"/>
<rect x="690" y="68" width="1" height="170" fill="#ffc000"/>
<rect x="690" y="61" width="1" height="7" fill="#0000ff"/>
<rect x="688" y="56" width="5" height="5" fill="#ffffff" />
<rect x="686" y="58" width="10" height="1" fill="#0000ff"/>
<path d="M689 55.5h3M688 56.5h1M692 56.5h1M687 57.5h1M693 57.5h1M687 58.5h1M693 58.5h1M687 59.5h1M693 59.5h1M688 60.5h1M692 60.5h1M689 61.5h3" stroke="#0000ff" fill="none"/>
<g transform="translate(678 54)" fill="#000000" font-size="7.74" stroke="#000000" stroke-width="0.15">
<text class="m" transform="translate(2 -1.54) scale(1.7 1)" x="-2.32">-</text>
<text class="m" transform="scale(0.86 1)" x="4.65 9.29 13.94 18.58 23.23">L1:11</text>
</g>
<rect x="714" y="92" width="1" height="146" fill="#00c800"/>
<rect x="714" y="85" width="1" height="7" fill="#0000ff"/>
<rect x="712" y="80" width="5" height="5" fill="#ffffff" />
<rect x="710" y="82" width="10" height="1" fill="#0000ff"/>
<path d="M713 79.5h3M712 80.5h1M716 80.5h1M711 81.5h1M717 81.5h1M711 82.5h1M717 82.5h1M711 83.5h1M717 83.5h1M712 84.5h1M716 84.5h1M713 85.5h3" stroke="#0000ff" fill="none"/>
<g transform="translate(702 78)" fill="#000000" font-size="7.74" stroke="#000000" stroke-width="0.15">
<text class="m" transform="translate(2 -1.54) scale(1.7 1)" x="-2.32">-</text>
<text class="m" transform="scale(0.86 1)" x="4.65 9.29 13.94 18.58 23.23">L2:1<tspan class="z" font-size="7.42">0</tspan></text>
</g>
<rect x="738" y="116" width="1" height="122" fill="#ff0000"/>
<rect x="738" y="109" width="1" height="7" fill="#0000ff"/>
<rect x="736" y="104" width="5" height="5" fill="#ffffff" />
<rect x="734" y="106" width="10" height="1" fill="#0000ff"/>
<path d="M737 103.5h3M736 104.5h1M740 104.5h1M735 105.5h1M741 105.5h1M735 106.5h1M741 106.5h1M735 107.5h1M741 107.5h1M736 108.5h1M740 108.5h1M737 109.5h3" stroke="#0000ff" fill="none"/>
<g transform="translate(726 102)" fill="#000000" font-size="7.74" stroke="#000000" stroke-width="0.15">
<text class="m" transform="translate(2 -1.54) scale(1.7 1)" x="-2.32">-</text>
<text class="m" transform="scale(0.86 1)" x="4.65 9.29 13.94 18.58 23.23">L3:1<tspan class="z" font-size="7.42">0</tspan></text>
</g>
<rect x="648" y="154" width="103" height="1" fill="#000000"/>
<text class="s" transform="translate(654 152.1) scale(0.78 1)" x="3.53 10.58 17.63 24.68" font-size="10.6" fill="#0000ff" text-anchor="middle" stroke="#0000ff" stroke-width="0.25">RV 4</text>
<path d="M687 199.5h1M688 200.5h1M689 201.5h1M690 202.5h1M691 203.5h1M692 204.5h1M693 205.5h1" stroke="#ff0000" fill="none"/>
<g transform="translate(694.7 201)" fill="#ff0000" font-size="6.22" stroke="#ff0000" stroke-width="0.2">
<text class="m" transform="scale(0.8 1)" x="0 3.73">R1</text>
</g>
<path d="M711 199.5h1M712 200.5h1M713 201.5h1M714 202.5h1M715 203.5h1M716 204.5h1M717 205.5h1" stroke="#ff0000" fill="none"/>
<g transform="translate(718.7 201)" fill="#ff0000" font-size="6.22" stroke="#ff0000" stroke-width="0.2">
<text class="m" transform="scale(0.8 1)" x="0 3.73">S1</text>
</g>
<path d="M735 199.5h1M736 200.5h1M737 201.5h1M738 202.5h1M739 203.5h1M740 204.5h1M741 205.5h1" stroke="#ff0000" fill="none"/>
<g transform="translate(742.7 201)" fill="#ff0000" font-size="6.22" stroke="#ff0000" stroke-width="0.2">
<text class="m" transform="scale(0.8 1)" x="0 3.73">T1</text>
</g>
<rect x="690" y="238" width="1" height="7" fill="#0000ff"/>
<g transform="translate(692.6 242)" fill="#000000" font-size="7.74" stroke="#000000" stroke-width="0.15">
<text class="m" transform="scale(0.86 1)" x="0">1</text>
</g>
<path d="M682 243.5h1M683 244.5h1M683 245.5h1M684 246.5h1M684 247.5h1M685 248.5h1M685 249.5h1M686 250.5h1M687 251.5h1M687 252.5h1M688 253.5h1M688 254.5h1M689 255.5h1M689 256.5h1M690 257.5h1" stroke="#0000ff" fill="none"/>
<rect x="690" y="258" width="1" height="4" fill="#0000ff"/>
<rect x="690" y="261" width="7" height="1" fill="#0000ff"/>
<rect x="696" y="261" width="1" height="6" fill="#0000ff"/>
<rect x="690" y="266" width="7" height="1" fill="#0000ff"/>
<rect x="690" y="266" width="1" height="5" fill="#0000ff"/>
<g transform="translate(684.5 280)" fill="#0000ff" font-size="10.63">
<text class="m" transform="scale(0.86 1)" x="0 6.38">I&gt;</text>
</g>
<rect x="690" y="283" width="1" height="5" fill="#0000ff"/>
<rect x="690" y="288" width="1" height="107" fill="#ff0000"/>
<g transform="translate(692.4 291)" fill="#000000" font-size="7.74" stroke="#000000" stroke-width="0.15">
<text class="m" transform="scale(0.86 1)" x="0">2</text>
</g>
<rect x="714" y="238" width="1" height="7" fill="#0000ff"/>
<g transform="translate(716.6 242)" fill="#000000" font-size="7.74" stroke="#000000" stroke-width="0.15">
<text class="m" transform="scale(0.86 1)" x="0">3</text>
</g>
<path d="M706 243.5h1M707 244.5h1M707 245.5h1M708 246.5h1M708 247.5h1M709 248.5h1M709 249.5h1M710 250.5h1M711 251.5h1M711 252.5h1M712 253.5h1M712 254.5h1M713 255.5h1M713 256.5h1M714 257.5h1" stroke="#0000ff" fill="none"/>
<rect x="714" y="258" width="1" height="4" fill="#0000ff"/>
<rect x="714" y="261" width="7" height="1" fill="#0000ff"/>
<rect x="720" y="261" width="1" height="6" fill="#0000ff"/>
<rect x="714" y="266" width="7" height="1" fill="#0000ff"/>
<rect x="714" y="266" width="1" height="5" fill="#0000ff"/>
<g transform="translate(708.5 280)" fill="#0000ff" font-size="10.63">
<text class="m" transform="scale(0.86 1)" x="0 6.38">I&gt;</text>
</g>
<rect x="714" y="283" width="1" height="5" fill="#0000ff"/>
<rect x="714" y="288" width="1" height="107" fill="#ff0000"/>
<g transform="translate(716.4 291)" fill="#000000" font-size="7.74" stroke="#000000" stroke-width="0.15">
<text class="m" transform="scale(0.86 1)" x="0">4</text>
</g>
<rect x="738" y="238" width="1" height="7" fill="#0000ff"/>
<g transform="translate(740.6 242)" fill="#000000" font-size="7.74" stroke="#000000" stroke-width="0.15">
<text class="m" transform="scale(0.86 1)" x="0">5</text>
</g>
<path d="M730 243.5h1M731 244.5h1M731 245.5h1M732 246.5h1M732 247.5h1M733 248.5h1M733 249.5h1M734 250.5h1M735 251.5h1M735 252.5h1M736 253.5h1M736 254.5h1M737 255.5h1M737 256.5h1M738 257.5h1" stroke="#0000ff" fill="none"/>
<rect x="738" y="258" width="1" height="4" fill="#0000ff"/>
<rect x="738" y="261" width="7" height="1" fill="#0000ff"/>
<rect x="744" y="261" width="1" height="6" fill="#0000ff"/>
<rect x="738" y="266" width="7" height="1" fill="#0000ff"/>
<rect x="738" y="266" width="1" height="5" fill="#0000ff"/>
<g transform="translate(732.5 280)" fill="#0000ff" font-size="10.63">
<text class="m" transform="scale(0.86 1)" x="0 6.38">I&gt;</text>
</g>
<rect x="738" y="283" width="1" height="5" fill="#0000ff"/>
<rect x="738" y="288" width="1" height="107" fill="#ff0000"/>
<g transform="translate(740.4 291)" fill="#000000" font-size="7.74" stroke="#000000" stroke-width="0.15">
<text class="m" transform="scale(0.86 1)" x="0">6</text>
</g>
<rect x="678" y="258" width="73" height="1" fill="#0000ff"/>
<rect x="678" y="270" width="73" height="1" fill="#0000ff"/>
<rect x="678" y="282" width="73" height="1" fill="#0000ff"/>
<rect x="678" y="258" width="1" height="25" fill="#0000ff"/>
<rect x="702" y="258" width="1" height="25" fill="#0000ff"/>
<rect x="726" y="258" width="1" height="25" fill="#0000ff"/>
<rect x="750" y="258" width="1" height="25" fill="#0000ff"/>
<rect x="654" y="247" width="1" height="7" fill="#0000ff"/>
<rect x="654" y="250" width="25" height="1" fill="#0000ff"/>
<rect x="660" y="244" width="13" height="1" fill="#0000ff"/>
<rect x="660" y="256" width="13" height="1" fill="#0000ff"/>
<rect x="660" y="244" width="1" height="13" fill="#0000ff"/>
<rect x="672" y="244" width="1" height="13" fill="#0000ff"/>
<rect x="666" y="241" width="1" height="19" fill="#0000ff"/>
<rect x="666" y="262" width="1" height="7" fill="#0000ff"/>
<rect x="666" y="271" width="1" height="6" fill="#0000ff"/>
<rect x="666" y="264" width="4" height="1" fill="#0000ff"/>
<rect x="672" y="264" width="7" height="1" fill="#0000ff"/>
<rect x="666" y="276" width="4" height="1" fill="#0000ff"/>
<rect x="672" y="276" width="7" height="1" fill="#0000ff"/>
<rect x="684" y="250" width="7" height="1" fill="#0000ff"/>
<rect x="696" y="250" width="7" height="1" fill="#0000ff"/>
<rect x="708" y="250" width="7" height="1" fill="#0000ff"/>
<rect x="720" y="250" width="7" height="1" fill="#0000ff"/>
<rect x="732" y="250" width="7" height="1" fill="#0000ff"/>
<rect x="744" y="250" width="7" height="1" fill="#0000ff"/>
<rect x="756" y="250" width="7" height="1" fill="#0000ff"/>
<rect x="768" y="250" width="7" height="1" fill="#0000ff"/>
<rect x="780" y="250" width="7" height="1" fill="#0000ff"/>
<rect x="792" y="250" width="7" height="1" fill="#0000ff"/>
<rect x="804" y="250" width="9" height="1" fill="#0000ff"/>
<rect x="782" y="238" width="1" height="7" fill="#0000ff"/>
<path d="M775 243.5h1M776 244.5h1M776 245.5h1M777 246.5h1M777 247.5h1M778 248.5h1M778 249.5h1M779 250.5h1M779 251.5h1M780 252.5h1M780 253.5h1M781 254.5h1M781 255.5h1M782 256.5h1" stroke="#0000ff" fill="none"/>
<rect x="782" y="256" width="1" height="7" fill="#0000ff"/>
<g transform="translate(784 242)" fill="#000000" font-size="7.74" stroke="#000000" stroke-width="0.15">
<text class="m" transform="scale(0.86 1)" x="0 4.65 9.29">311</text>
</g>
<g transform="translate(784 265)" fill="#000000" font-size="7.74" stroke="#000000" stroke-width="0.15">
<text class="m" transform="scale(0.86 1)" x="0 4.65 9.29">314</text>
</g>
<g transform="translate(787.8 291.6) rotate(-90)" fill="#6f8a26" font-size="7.74" stroke="#6f8a26" stroke-width="0.2">
<text class="m" transform="scale(0.86 1)" x="0 4.65 9.29 13.94 18.58"><tspan fill="#e6cc78">/</tspan>19.4</text>
</g>
<g transform="translate(622.65 255)" fill="#0000ff" font-size="10.78" stroke="#0000ff" stroke-width="0.05">
<text class="m" transform="translate(2.83 -1.64) scale(1.7 1)" x="-3.23">-</text>
<text class="m" transform="scale(0.88 1)" x="6.47 12.93 19.4 25.87">QF19</text>
</g>
<g transform="translate(639.2 265)" fill="#000000" font-size="7.74" stroke="#000000" stroke-width="0.15">
<text class="m" transform="scale(0.86 1)" x="0 4.65 9.29">25A</text>
</g>
<text class="c" x="650.5" y="274.3" font-size="7.7" fill="#000000" text-anchor="end" textLength="30.8" lengthAdjust="spacingAndGlyphs" font-weight="400" stroke="#000" stroke-width="0.1">油泵保护</text>
<g transform="translate(594.8 284)" fill="#000000" font-size="7.74" stroke="#000000" stroke-width="0.15">
<text class="m" transform="scale(0.86 1)" x="0 4.65 9.29 13.94">NM8S</text>
<text class="m" transform="translate(18 -1.54) scale(1.7 1)" x="-2.32">-</text>
<text class="m" transform="scale(0.86 1)" x="23.23 27.87 32.52 37.16 41.81 46.46 51.1 55.75 60.39">1<tspan class="z" font-size="7.42">0</tspan><tspan class="z" font-size="7.42">0</tspan>S/5<tspan class="z" font-size="7.42">0</tspan>/3</text>
</g>
<path d="M687 344.5h1M688 345.5h1M689 346.5h1M690 347.5h1M691 348.5h1M692 349.5h1M693 350.5h1" stroke="#ff0000" fill="none"/>
<g transform="translate(694 345)" fill="#ff0000" font-size="6.22" stroke="#ff0000" stroke-width="0.2">
<text class="m" transform="scale(0.8 1)" x="0 3.73 7.47 11.2">YBR1</text>
</g>
<path d="M711 344.5h1M712 345.5h1M713 346.5h1M714 347.5h1M715 348.5h1M716 349.5h1M717 350.5h1" stroke="#ff0000" fill="none"/>
<g transform="translate(718 345)" fill="#ff0000" font-size="6.22" stroke="#ff0000" stroke-width="0.2">
<text class="m" transform="scale(0.8 1)" x="0 3.73 7.47 11.2">YBS1</text>
</g>
<path d="M735 344.5h1M736 345.5h1M737 346.5h1M738 347.5h1M739 348.5h1M740 349.5h1M741 350.5h1" stroke="#ff0000" fill="none"/>
<g transform="translate(742 345)" fill="#ff0000" font-size="6.22" stroke="#ff0000" stroke-width="0.2">
<text class="m" transform="scale(0.8 1)" x="0 3.73 7.47 11.2">YBT1</text>
</g>
<rect x="690" y="395" width="1" height="7" fill="#0000ff"/>
<path d="M689 395.5h1M688 396.5h1M687 397.5h1M687 398.5h1M687 399.5h1M688 400.5h1M689 401.5h1" stroke="#0000ff" fill="none"/>
<path d="M682 399.5h1M683 400.5h1M683 401.5h1M684 402.5h1M684 403.5h1M685 404.5h1M685 405.5h1M686 406.5h1M687 407.5h1M687 408.5h1M688 409.5h1M688 410.5h1M689 411.5h1M689 412.5h1M690 413.5h1" stroke="#0000ff" fill="none"/>
<rect x="690" y="413" width="1" height="7" fill="#0000ff"/>
<rect x="690" y="420" width="1" height="113" fill="#ff0000"/>
<g transform="translate(692.6 398)" fill="#000000" font-size="7.74" stroke="#000000" stroke-width="0.15">
<text class="m" transform="scale(0.86 1)" x="0">1</text>
</g>
<g transform="translate(692.4 422)" fill="#000000" font-size="7.74" stroke="#000000" stroke-width="0.15">
<text class="m" transform="scale(0.86 1)" x="0">2</text>
</g>
<rect x="714" y="395" width="1" height="7" fill="#0000ff"/>
<path d="M713 395.5h1M712 396.5h1M711 397.5h1M711 398.5h1M711 399.5h1M712 400.5h1M713 401.5h1" stroke="#0000ff" fill="none"/>
<path d="M706 399.5h1M707 400.5h1M707 401.5h1M708 402.5h1M708 403.5h1M709 404.5h1M709 405.5h1M710 406.5h1M711 407.5h1M711 408.5h1M712 409.5h1M712 410.5h1M713 411.5h1M713 412.5h1M714 413.5h1" stroke="#0000ff" fill="none"/>
<rect x="714" y="413" width="1" height="7" fill="#0000ff"/>
<rect x="714" y="420" width="1" height="113" fill="#ff0000"/>
<g transform="translate(716.6 398)" fill="#000000" font-size="7.74" stroke="#000000" stroke-width="0.15">
<text class="m" transform="scale(0.86 1)" x="0">3</text>
</g>
<g transform="translate(716.4 422)" fill="#000000" font-size="7.74" stroke="#000000" stroke-width="0.15">
<text class="m" transform="scale(0.86 1)" x="0">4</text>
</g>
<rect x="738" y="395" width="1" height="7" fill="#0000ff"/>
<path d="M737 395.5h1M736 396.5h1M735 397.5h1M735 398.5h1M735 399.5h1M736 400.5h1M737 401.5h1" stroke="#0000ff" fill="none"/>
<path d="M730 399.5h1M731 400.5h1M731 401.5h1M732 402.5h1M732 403.5h1M733 404.5h1M733 405.5h1M734 406.5h1M735 407.5h1M735 408.5h1M736 409.5h1M736 410.5h1M737 411.5h1M737 412.5h1M738 413.5h1" stroke="#0000ff" fill="none"/>
<rect x="738" y="413" width="1" height="7" fill="#0000ff"/>
<rect x="738" y="420" width="1" height="113" fill="#ff0000"/>
<g transform="translate(740.6 398)" fill="#000000" font-size="7.74" stroke="#000000" stroke-width="0.15">
<text class="m" transform="scale(0.86 1)" x="0">5</text>
</g>
<g transform="translate(740.4 422)" fill="#000000" font-size="7.74" stroke="#000000" stroke-width="0.15">
<text class="m" transform="scale(0.86 1)" x="0">6</text>
</g>
<g transform="translate(649.65 411)" fill="#0000ff" font-size="10.78" stroke="#0000ff" stroke-width="0.05">
<text class="m" transform="translate(2.83 -1.64) scale(1.7 1)" x="-3.23">-</text>
<text class="m" transform="scale(0.88 1)" x="6.47 12.93 19.4 25.87">KM11</text>
</g>
<g transform="translate(658 421.1)" fill="#6f8a26" font-size="7.74" stroke="#6f8a26" stroke-width="0.2">
<text class="m" transform="scale(0.86 1)" x="0 4.65 9.29 13.94 18.58"><tspan fill="#e6cc78">/</tspan>24.3</text>
</g>
<rect x="751" y="473" width="8" height="1" fill="#5068c0"/>
<rect x="767" y="473" width="4" height="1" fill="#5068c0"/>
<rect x="773" y="473" width="1" height="1" fill="#5068c0"/>
<rect x="775" y="473" width="8" height="1" fill="#5068c0"/>
<rect x="785" y="473" width="2" height="1" fill="#5068c0"/>
<rect x="758" y="473" width="10" height="1" fill="#0000ff"/>
<path d="M761 470.5h3M760 471.5h1M764 471.5h1M759 472.5h1M765 472.5h1M759 473.5h1M765 473.5h1M759 474.5h1M765 474.5h1M760 475.5h1M764 475.5h1M761 476.5h3" stroke="#0000ff" fill="none"/>
<rect x="762" y="477" width="1" height="6" fill="#0000ff"/>
<rect x="762" y="483" width="1" height="50" fill="#00c800"/>
<g transform="translate(752 469)" fill="#000000" font-size="7.74" stroke="#000000" stroke-width="0.15">
<text class="m" transform="translate(2 -1.54) scale(1.7 1)" x="-2.32">-</text>
<text class="m" transform="scale(0.86 1)" x="4.65 9.29 13.94 18.58">PE:5</text>
</g>
<path d="M764 475.5h1M765 476.5h1M766 477.5h1M767 478.5h1M768 479.5h1M769 480.5h1" stroke="#000000" fill="none"/>
<path d="M772 479.5h5M771 480.5h1M777 480.5h1M770 481.5h1M778 481.5h1M769 482.5h1M779 482.5h1M768 483.5h1M780 483.5h1M768 484.5h1M780 484.5h1M768 485.5h1M780 485.5h1M768 486.5h1M780 486.5h1M768 487.5h1M780 487.5h1M769 488.5h1M779 488.5h1M770 489.5h1M778 489.5h1M771 490.5h1M777 490.5h1M772 491.5h5" stroke="#000000" fill="none"/>
<rect x="774" y="481" width="1" height="5" fill="#000000"/>
<rect x="769" y="485" width="11" height="2" fill="#000000"/>
<rect x="771" y="488" width="7" height="1" fill="#000000"/>
<path d="M687 506.5h1M688 507.5h1M689 508.5h1M690 509.5h1M691 510.5h1M692 511.5h1M693 512.5h1" stroke="#ff0000" fill="none"/>
<g transform="translate(694.7 507)" fill="#ff0000" font-size="6.22" stroke="#ff0000" stroke-width="0.2">
<text class="m" transform="scale(0.8 1)" x="0 3.73 7.47">2U1</text>
</g>
<path d="M687 566.5h1M688 567.5h1M689 568.5h1M690 569.5h1M691 570.5h1M692 571.5h1M693 572.5h1" stroke="#ff0000" fill="none"/>
<g transform="translate(694.7 568)" fill="#ff0000" font-size="6.22" stroke="#ff0000" stroke-width="0.2">
<text class="m" transform="scale(0.8 1)" x="0 3.73 7.47">2U1</text>
</g>
<path d="M711 506.5h1M712 507.5h1M713 508.5h1M714 509.5h1M715 510.5h1M716 511.5h1M717 512.5h1" stroke="#ff0000" fill="none"/>
<g transform="translate(718.7 507)" fill="#ff0000" font-size="6.22" stroke="#ff0000" stroke-width="0.2">
<text class="m" transform="scale(0.8 1)" x="0 3.73 7.47">2V1</text>
</g>
<path d="M711 566.5h1M712 567.5h1M713 568.5h1M714 569.5h1M715 570.5h1M716 571.5h1M717 572.5h1" stroke="#ff0000" fill="none"/>
<g transform="translate(718.7 568)" fill="#ff0000" font-size="6.22" stroke="#ff0000" stroke-width="0.2">
<text class="m" transform="scale(0.8 1)" x="0 3.73 7.47">2V1</text>
</g>
<path d="M735 506.5h1M736 507.5h1M737 508.5h1M738 509.5h1M739 510.5h1M740 511.5h1M741 512.5h1" stroke="#ff0000" fill="none"/>
<g transform="translate(742.7 507)" fill="#ff0000" font-size="6.22" stroke="#ff0000" stroke-width="0.2">
<text class="m" transform="scale(0.8 1)" x="0 3.73 7.47">2W1</text>
</g>
<path d="M735 566.5h1M736 567.5h1M737 568.5h1M738 569.5h1M739 570.5h1M740 571.5h1M741 572.5h1" stroke="#ff0000" fill="none"/>
<g transform="translate(742.7 568)" fill="#ff0000" font-size="6.22" stroke="#ff0000" stroke-width="0.2">
<text class="m" transform="scale(0.8 1)" x="0 3.73 7.47">2W1</text>
</g>
<path d="M759 506.5h1M760 507.5h1M761 508.5h1M762 509.5h1M763 510.5h1M764 511.5h1M765 512.5h1" stroke="#ff0000" fill="none"/>
<g transform="translate(766.7 507)" fill="#ff0000" font-size="6.22" stroke="#ff0000" stroke-width="0.2">
<text class="m" transform="scale(0.8 1)" x="0 3.73">PE</text>
</g>
<path d="M759 566.5h1M760 567.5h1M761 568.5h1M762 569.5h1M763 570.5h1M764 571.5h1M765 572.5h1" stroke="#ff0000" fill="none"/>
<g transform="translate(766.7 568)" fill="#ff0000" font-size="6.22" stroke="#ff0000" stroke-width="0.2">
<text class="m" transform="scale(0.8 1)" x="0 3.73">PE</text>
</g>
<rect x="648" y="527" width="7" height="1" fill="#000000"/>
<rect x="648" y="551" width="7" height="1" fill="#000000"/>
<rect x="660" y="527" width="7" height="1" fill="#000000"/>
<rect x="660" y="551" width="7" height="1" fill="#000000"/>
<rect x="672" y="527" width="7" height="1" fill="#000000"/>
<rect x="672" y="551" width="7" height="1" fill="#000000"/>
<rect x="684" y="527" width="7" height="1" fill="#000000"/>
<rect x="684" y="551" width="7" height="1" fill="#000000"/>
<rect x="696" y="527" width="7" height="1" fill="#000000"/>
<rect x="696" y="551" width="7" height="1" fill="#000000"/>
<rect x="708" y="527" width="7" height="1" fill="#000000"/>
<rect x="708" y="551" width="7" height="1" fill="#000000"/>
<rect x="720" y="527" width="7" height="1" fill="#000000"/>
<rect x="720" y="551" width="7" height="1" fill="#000000"/>
<rect x="732" y="527" width="7" height="1" fill="#000000"/>
<rect x="732" y="551" width="7" height="1" fill="#000000"/>
<rect x="744" y="527" width="7" height="1" fill="#000000"/>
<rect x="744" y="551" width="7" height="1" fill="#000000"/>
<rect x="756" y="527" width="7" height="1" fill="#000000"/>
<rect x="756" y="551" width="7" height="1" fill="#000000"/>
<rect x="768" y="527" width="7" height="1" fill="#000000"/>
<rect x="768" y="551" width="7" height="1" fill="#000000"/>
<rect x="780" y="527" width="1" height="1" fill="#000000"/>
<rect x="780" y="551" width="1" height="1" fill="#000000"/>
<rect x="648" y="527" width="1" height="6" fill="#000000"/>
<rect x="648" y="539" width="1" height="6" fill="#000000"/>
<rect x="648" y="550" width="1" height="2" fill="#000000"/>
<rect x="780" y="527" width="1" height="6" fill="#000000"/>
<rect x="780" y="539" width="1" height="6" fill="#000000"/>
<rect x="780" y="550" width="1" height="2" fill="#000000"/>
<rect x="778" y="527" width="3" height="1" fill="#000000"/>
<rect x="778" y="551" width="3" height="1" fill="#000000"/>
<rect x="690" y="533" width="1" height="13" fill="#0000ff"/>
<rect x="689" y="538" width="4" height="3" fill="#ffffff" />
<path d="M689 537.5h3M688 538.5h1M692 538.5h1M688 539.5h1M692 539.5h1M688 540.5h1M692 540.5h1M689 541.5h3" stroke="#0000ff" fill="none"/>
<g transform="translate(694 543)" fill="#202020" font-size="7.74" stroke="#202020" stroke-width="0.15">
<text class="m" transform="scale(0.86 1)" x="0">5</text>
</g>
<rect x="690" y="546" width="1" height="53" fill="#ff0000"/>
<rect x="714" y="533" width="1" height="13" fill="#0000ff"/>
<rect x="713" y="538" width="4" height="3" fill="#ffffff" />
<path d="M713 537.5h3M712 538.5h1M716 538.5h1M712 539.5h1M716 539.5h1M712 540.5h1M716 540.5h1M713 541.5h3" stroke="#0000ff" fill="none"/>
<g transform="translate(718 543)" fill="#202020" font-size="7.74" stroke="#202020" stroke-width="0.15">
<text class="m" transform="scale(0.86 1)" x="0">6</text>
</g>
<rect x="714" y="546" width="1" height="53" fill="#ff0000"/>
<rect x="738" y="533" width="1" height="13" fill="#0000ff"/>
<rect x="737" y="538" width="4" height="3" fill="#ffffff" />
<path d="M737 537.5h3M736 538.5h1M740 538.5h1M736 539.5h1M740 539.5h1M736 540.5h1M740 540.5h1M737 541.5h3" stroke="#0000ff" fill="none"/>
<g transform="translate(742 543)" fill="#202020" font-size="7.74" stroke="#202020" stroke-width="0.15">
<text class="m" transform="scale(0.86 1)" x="0">7</text>
</g>
<rect x="738" y="546" width="1" height="53" fill="#ff0000"/>
<rect x="762" y="533" width="1" height="13" fill="#0000ff"/>
<rect x="761" y="538" width="4" height="3" fill="#ffffff" />
<path d="M761 537.5h3M760 538.5h1M764 538.5h1M760 539.5h1M764 539.5h1M760 540.5h1M764 540.5h1M761 541.5h3" stroke="#0000ff" fill="none"/>
<g transform="translate(766 543)" fill="#202020" font-size="7.74" stroke="#202020" stroke-width="0.15">
<text class="m" transform="scale(0.86 1)" x="0">8</text>
</g>
<rect x="762" y="546" width="1" height="114" fill="#00c800"/>
<g transform="translate(656.3 544)" fill="#0000ff" font-size="10.78" stroke="#0000ff" stroke-width="0.05">
<text class="m" transform="translate(2.83 -1.64) scale(1.7 1)" x="-3.23">-</text>
<text class="m" transform="scale(0.88 1)" x="6.47 12.93 19.4">XT3</text>
</g>
<g transform="translate(692 602.4)" fill="#000000" font-size="7.74" stroke="#000000" stroke-width="0.15">
<text class="m" transform="scale(0.86 1)" x="0 4.65">U1</text>
</g>
<g transform="translate(716 602.4)" fill="#000000" font-size="7.74" stroke="#000000" stroke-width="0.15">
<text class="m" transform="scale(0.86 1)" x="0 4.65">V1</text>
</g>
<g transform="translate(740 602.4)" fill="#000000" font-size="7.74" stroke="#000000" stroke-width="0.15">
<text class="m" transform="scale(0.86 1)" x="0 4.65">W1</text>
</g>
<path d="M711 605.5h7M708 606.5h3M718 606.5h3M706 607.5h2M721 607.5h2M704 608.5h2M723 608.5h2M703 609.5h1M725 609.5h1M702 610.5h1M726 610.5h1M701 611.5h1M727 611.5h1M700 612.5h1M728 612.5h1M699 613.5h1M729 613.5h1M699 614.5h1M730 614.5h1M698 615.5h1M730 615.5h1M698 616.5h1M731 616.5h1M697 617.5h1M731 617.5h1M697 618.5h1M731 618.5h1M697 619.5h1M732 619.5h1M696 620.5h1M732 620.5h1M696 621.5h1M732 621.5h1M696 622.5h1M732 622.5h1M696 623.5h1M732 623.5h1M696 624.5h1M732 624.5h1M696 625.5h1M732 625.5h1M696 626.5h1M732 626.5h1M697 627.5h1M732 627.5h1M697 628.5h1M731 628.5h1M697 629.5h1M731 629.5h1M698 630.5h1M731 630.5h1M698 631.5h1M730 631.5h1M699 632.5h1M730 632.5h1M699 633.5h1M729 633.5h1M700 634.5h1M728 634.5h1M701 635.5h1M727 635.5h1M702 636.5h1M726 636.5h1M703 637.5h1M725 637.5h1M704 638.5h1M724 638.5h1M705 639.5h2M722 639.5h2M707 640.5h3M719 640.5h3M710 641.5h9" stroke="#0000ff" fill="none"/>
<rect x="690" y="599" width="1" height="7" fill="#0000ff"/>
<path d="M690 605.5h1M691 606.5h2M693 607.5h1M694 608.5h1M695 609.5h2M697 610.5h1M698 611.5h2M700 612.5h1" stroke="#0000ff" fill="none"/>
<rect x="714" y="599" width="1" height="7" fill="#0000ff"/>
<rect x="738" y="599" width="1" height="7" fill="#0000ff"/>
<path d="M738 605.5h1M736 606.5h2M735 607.5h1M734 608.5h1M732 609.5h2M731 610.5h1M729 611.5h2M728 612.5h1" stroke="#0000ff" fill="none"/>
<g transform="translate(709.5 621.9)" fill="#0000ff" font-size="13.21" stroke="#0000ff" stroke-width="0.4">
<text class="m" transform="scale(0.96 1)" x="0">M</text>
</g>
<g transform="translate(707.4 636)" fill="#0000ff" font-size="12.75">
<text class="m" transform="scale(0.78 1)" x="0">3</text>
</g>
<path d="M714.8 625.3 q1.8 -2.6 3.6 0 t3.6 0" fill="none" stroke="#0000ff" shape-rendering="geometricPrecision"/>
<line x1="729.4" y1="640.8" x2="735.6" y2="633.4" stroke="#0000ff" stroke-width="1.5" shape-rendering="geometricPrecision"/>
<path d="M734 637.5h1M735 638.5h1M736 639.5h1M737 640.5h1M738 641.5h1" stroke="#0000ff" fill="none"/>
<rect x="738" y="641" width="1" height="6" fill="#0000ff"/>
<rect x="738" y="647" width="1" height="13" fill="#00c800"/>
<rect x="738" y="659" width="25" height="1" fill="#00c800"/>
<g transform="translate(740 650.4)" fill="#000000" font-size="7.74" stroke="#000000" stroke-width="0.15">
<text class="m" transform="scale(0.86 1)" x="0 4.65">PE</text>
</g>
<g transform="translate(660.79 628)" fill="#0000ff" font-size="10.78" stroke="#0000ff" stroke-width="0.05">
<text class="m" transform="translate(2.83 -1.64) scale(1.7 1)" x="-3.23">-</text>
<text class="m" transform="scale(0.88 1)" x="6.47 12.93">M2</text>
</g>
<g transform="translate(630.8 638)" fill="#000000" font-size="7.74" stroke="#000000" stroke-width="0.15">
<text class="m" transform="scale(0.86 1)" x="0 4.65 9.29 13.94 18.58 23.23 27.87 32.52 37.16 41.81 46.46 51.1">7.5KW,38<tspan class="z" font-size="7.42">0</tspan>VAC</text>
</g>
<text class="c" x="678.3000000000001" y="647.3" font-size="7.7" fill="#000000" text-anchor="end" textLength="15.5" lengthAdjust="spacingAndGlyphs" font-weight="400" stroke="#000" stroke-width="0.1">油泵</text>
<path d="M29 22.5H498M510 22.5H979M991 22.5H1208M29 34.5H498M510 34.5H979M991 34.5H1208M29 46.5H498M510 46.5H979M991 46.5H1208M29 58.5H498M510 58.5H979M991 58.5H1208M29 70.5H498M510 70.5H979M991 70.5H1208M29 82.5H498M510 82.5H979M991 82.5H1208M29 94.5H498M510 94.5H979M991 94.5H1208M29 106.5H498M510 106.5H979M991 106.5H1208M29 118.5H498M510 118.5H979M991 118.5H1208M29 130.5H498M510 130.5H979M991 130.5H1208M29 142.5H498M510 142.5H979M991 142.5H1208M29 154.5H498M510 154.5H979M991 154.5H1208M29 166.5H498M510 166.5H979M991 166.5H1208M29 178.5H498M510 178.5H979M991 178.5H1208M29 190.5H498M510 190.5H979M991 190.5H1208M29 202.5H498M510 202.5H979M991 202.5H1208M29 214.5H498M510 214.5H979M991 214.5H1208M29 226.5H498M510 226.5H979M991 226.5H1208M29 238.5H498M510 238.5H979M991 238.5H1208M29 250.5H498M510 250.5H979M991 250.5H1208M29 262.5H498M510 262.5H979M991 262.5H1208M29 275.5H498M510 275.5H979M991 275.5H1208M29 287.5H498M510 287.5H979M991 287.5H1208M29 299.5H498M510 299.5H979M991 299.5H1208M29 311.5H498M510 311.5H979M991 311.5H1208M29 323.5H498M510 323.5H979M991 323.5H1208M29 335.5H498M510 335.5H979M991 335.5H1208M29 347.5H498M510 347.5H979M991 347.5H1208M29 359.5H498M510 359.5H979M991 359.5H1208M29 371.5H498M510 371.5H979M991 371.5H1208M29 383.5H498M510 383.5H979M991 383.5H1208M29 395.5H498M510 395.5H979M991 395.5H1208M29 407.5H498M510 407.5H979M991 407.5H1208M29 419.5H498M510 419.5H979M991 419.5H1208M29 431.5H498M510 431.5H979M991 431.5H1208M29 443.5H498M510 443.5H979M991 443.5H1208M29 455.5H498M510 455.5H979M991 455.5H1208M29 467.5H498M510 467.5H979M991 467.5H1208M29 479.5H498M510 479.5H979M991 479.5H1208M29 491.5H498M510 491.5H979M991 491.5H1208M29 503.5H498M510 503.5H979M991 503.5H1208M29 515.5H498M510 515.5H979M991 515.5H1208M29 527.5H498M510 527.5H979M991 527.5H1208M29 539.5H498M510 539.5H979M991 539.5H1208M29 551.5H498M510 551.5H979M991 551.5H1208M29 563.5H498M510 563.5H979M991 563.5H1208M29 575.5H498M510 575.5H979M991 575.5H1208M29 587.5H498M510 587.5H979M991 587.5H1208M29 599.5H498M510 599.5H979M991 599.5H1208M29 611.5H498M510 611.5H979M991 611.5H1208M29 623.5H498M510 623.5H979M991 623.5H1208M29 635.5H498M510 635.5H979M991 635.5H1208M29 647.5H498M510 647.5H979M991 647.5H1208M29 659.5H498M510 659.5H979M991 659.5H1208M29 671.5H498M510 671.5H979M991 671.5H1208M29 683.5H498M510 683.5H979M991 683.5H1208M29 695.5H498M510 695.5H979M991 695.5H1208M29 707.5H498M510 707.5H979M991 707.5H1208" stroke="#000" stroke-width="1" stroke-dasharray="1 11" fill="none"/>
</g>
</svg>
</body>
</html>
